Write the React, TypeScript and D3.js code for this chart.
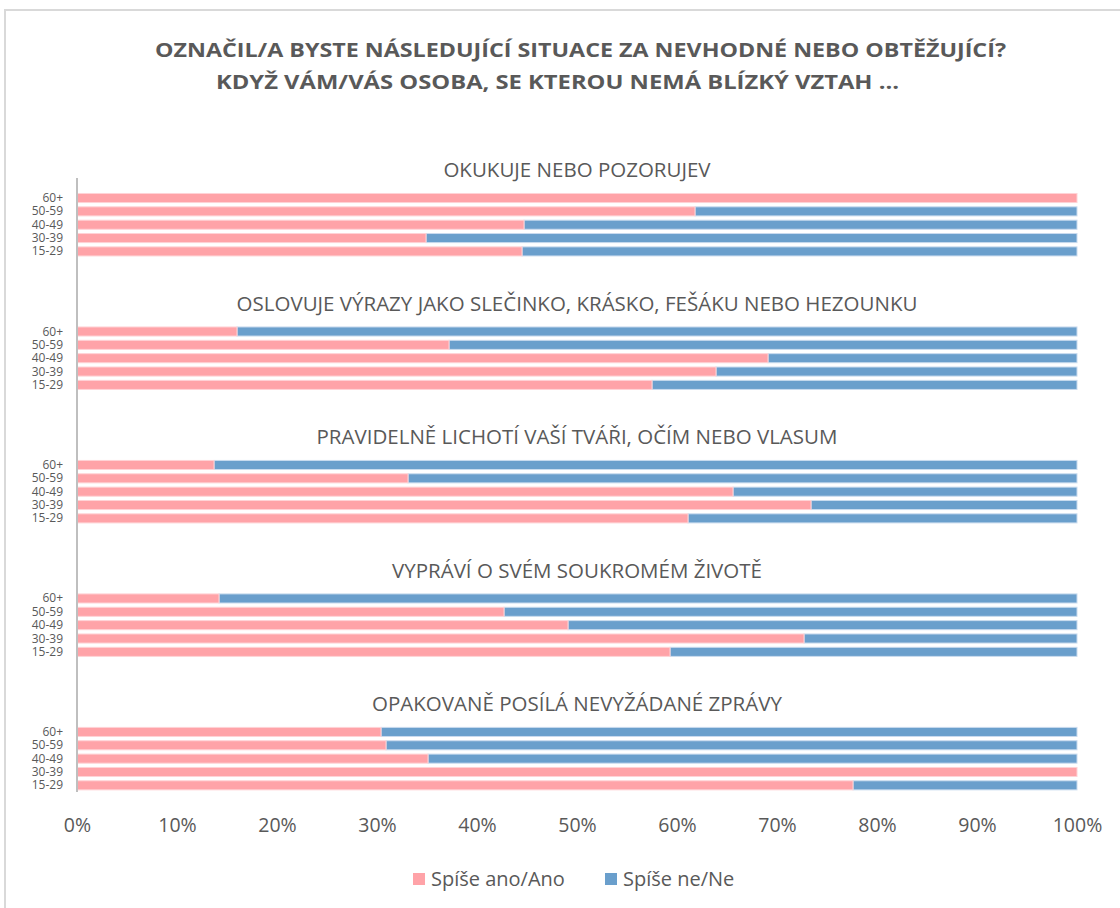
import React, { useEffect, useRef } from "react";
import * as d3 from "d3";

const titleLines = [
  "OZNAČIL/A BYSTE NÁSLEDUJÍCÍ SITUACE ZA NEVHODNÉ NEBO OBTĚŽUJÍCÍ?",
  "KDYŽ VÁM/VÁS OSOBA, SE KTEROU NEMÁ BLÍZKÝ VZTAH …",
];

const groups = [
  "OKUKUJE NEBO POZORUJEV",
  "OSLOVUJE VÝRAZY JAKO SLEČINKO, KRÁSKO, FEŠÁKU NEBO HEZOUNKU",
  "PRAVIDELNĚ LICHOTÍ VAŠÍ TVÁŘI, OČÍM NEBO VLASUM",
  "VYPRÁVÍ O SVÉM SOUKROMÉM ŽIVOTĚ",
  "OPAKOVANĚ POSÍLÁ NEVYŽÁDANÉ ZPRÁVY",
];

// top to bottom within each group
const ageGroups = ["60+", "50-59", "40-49", "30-39", "15-29"];

// share of "Spíše ano/Ano" per group, same order as ageGroups
const yesValues = [
  [1.0, 0.618, 0.447, 0.349, 0.445],
  [0.16, 0.372, 0.691, 0.639, 0.575],
  [0.137, 0.331, 0.656, 0.734, 0.611],
  [0.142, 0.427, 0.491, 0.727, 0.593],
  [0.304, 0.309, 0.351, 1.0, 0.776],
];

const seriesNames = ["Spíše ano/Ano", "Spíše ne/Ne"];
const seriesColors = ["#FFA3A8", "#6A9FCC"];
const xTicks = [0, 0.1, 0.2, 0.3, 0.4, 0.5, 0.6, 0.7, 0.8, 0.9, 1.0];

const W = 1120;
const H = 908;
const textColor = "#595959";
const font = "'Open Sans', 'Noto Sans', sans-serif";

function renderChart(svgEl: SVGSVGElement) {
  const svg = d3.select(svgEl);
  svg.selectAll("*").remove();

  const margin = { top: 178, left: 77, right: 43, bottom: 116 };
  const width = W - margin.left - margin.right;

  // frame
  svg
    .append("rect")
    .attr("x", 5)
    .attr("y", 10)
    .attr("width", W + 20)
    .attr("height", H + 20)
    .attr("fill", "#fff")
    .attr("stroke", "#d9d9d9")
    .attr("stroke-width", 2);

  // title
  const titleStarts = [155, 216];
  const titleWidths = [851, 683];
  titleLines.forEach((line, i) => {
    svg
      .append("text")
      .attr("x", titleStarts[i])
      .attr("y", 57 + i * 32)
      .attr("textLength", titleWidths[i])
      .attr("lengthAdjust", "spacingAndGlyphs")
      .attr("font-family", font)
      .attr("font-weight", 700)
      .attr("font-size", 19)
      .attr("fill", textColor)
      .text(line);
  });

  // rows: one blank row on top, then 5 bars per group with 5 blank rows between groups
  const rowKeys: string[] = ["blank-top"];
  groups.forEach((_, gi) => {
    if (gi > 0) for (let b = 0; b < 5; b++) rowKeys.push(`blank-${gi}-${b}`);
    ageGroups.forEach((a) => rowKeys.push(`${gi}|${a}`));
  });

  const y = d3
    .scaleBand<string>()
    .domain(rowKeys)
    .range([margin.top, H - margin.bottom])
    .paddingInner(0.32)
    .paddingOuter(0.16);

  const x = d3.scaleLinear().domain([0, 1]).range([margin.left, margin.left + width]);

  const chart = svg.append("g");

  groups.forEach((name, gi) => {
    const rows = ageGroups.map((a, ai) => ({ key: `${gi}|${a}`, age: a, yes: yesValues[gi][ai] }));

    // group heading
    chart
      .append("text")
      .attr("x", (x(0) + x(1)) / 2)
      .attr("y", (y(rows[0].key) as number) - 16)
      .attr("text-anchor", "middle")
      .attr("font-family", font)
      .attr("font-size", 20.5)
      .attr("fill", textColor)
      .text(name);

    const g = chart.append("g");
    g.selectAll("rect.no")
      .data(rows)
      .enter()
      .append("rect")
      .attr("class", "no")
      .attr("x", (d) => x(d.yes))
      .attr("y", (d) => y(d.key) as number)
      .attr("width", (d) => x(1) - x(d.yes))
      .attr("height", y.bandwidth())
      .attr("fill", seriesColors[1])
      .attr("stroke", "#c9dbee")
      .attr("stroke-width", 1);

    g.selectAll("rect.yes")
      .data(rows)
      .enter()
      .append("rect")
      .attr("class", "yes")
      .attr("x", x(0))
      .attr("y", (d) => y(d.key) as number)
      .attr("width", (d) => x(d.yes) - x(0))
      .attr("height", y.bandwidth())
      .attr("fill", seriesColors[0])
      .attr("stroke", "#ffd3d6")
      .attr("stroke-width", 1);

    g.selectAll("text.cat")
      .data(rows)
      .enter()
      .append("text")
      .attr("class", "cat")
      .attr("x", x(0) - 14)
      .attr("y", (d) => (y(d.key) as number) + y.bandwidth() / 2 + 4)
      .attr("text-anchor", "end")
      .attr("font-family", font)
      .attr("font-size", 12)
      .attr("fill", textColor)
      .text((d) => d.age);
  });

  // vertical axis line
  chart
    .append("line")
    .attr("x1", x(0))
    .attr("x2", x(0))
    .attr("y1", margin.top)
    .attr("y2", H - margin.bottom)
    .attr("stroke", "#bfbfbf")
    .attr("stroke-width", 2);

  // x tick labels
  const xAxis = svg
    .append("g")
    .attr("transform", `translate(0,${H - margin.bottom + 23})`)
    .call(
      d3
        .axisBottom(x)
        .tickValues(xTicks)
        .tickSize(0)
        .tickFormat((d) => d3.format(".0%")(d as number))
    );
  xAxis.select(".domain").remove();
  xAxis
    .selectAll("text")
    .attr("font-family", font)
    .attr("font-size", 19.5)
    .attr("fill", textColor);

  // legend
  const legendX = [413, 605];
  seriesNames.forEach((s, i) => {
    const lg = svg.append("g").attr("transform", `translate(${legendX[i]},873)`);
    lg.append("rect").attr("width", 12).attr("height", 12).attr("fill", seriesColors[i]);
    lg.append("text")
      .attr("x", 18)
      .attr("y", 13)
      .attr("font-family", font)
      .attr("font-size", 20)
      .attr("fill", textColor)
      .text(s);
  });
}

export default function App() {
  const ref = useRef<SVGSVGElement>(null);
  useEffect(() => {
    if (ref.current) renderChart(ref.current);
  }, []);
  return (
    <svg
      ref={ref}
      width={W}
      height={H}
      style={{ position: "absolute", left: 0, top: 0, display: "block" }}
    />
  );
}
